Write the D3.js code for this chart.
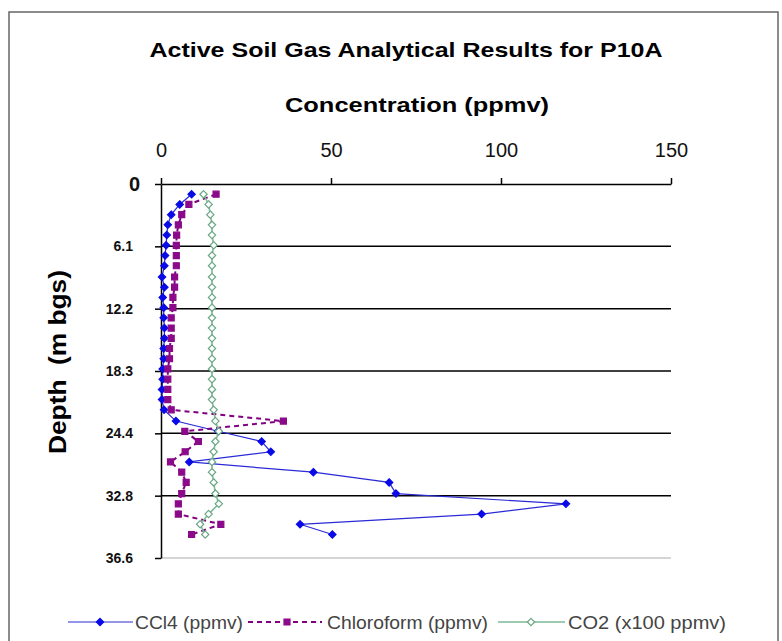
<!DOCTYPE html>
<html>
<head>
<meta charset="utf-8">
<script src="https://cdn.jsdelivr.net/npm/d3@7"></script>
<style>
  body { margin: 0; background: #fff; }
  text { font-family: Arial, "Liberation Sans", sans-serif; }
</style>
</head>
<body>
<div id="chart"></div>
<script>
// depth of each sample (m bgs)
const depths = [1.0, 2.0, 3.0, 4.0, 5.0, 6.0, 7.0, 8.0, 9.1, 10.1, 11.1, 12.1, 13.1, 14.1, 15.1, 16.1, 17.1,
  18.1, 19.1, 20.1, 21.1, 22.1, 23.2, 24.2, 25.2, 26.2, 27.2, 28.2, 29.2, 30.3, 31.3, 32.3, 33.3, 34.3];

// concentrations
const ccl4 = [9, 5.5, 3, 2, 1.7, 1.5, 1.2, 1, 0.3, 1, 0.5, 0.8, 0.8, 1, 1, 0.8, 0.8,
  0.5, 0.5, 0.3, 0.3, 0.9, 4.4, 16.8, 29.6, 32.3, 8.3, 44.8, 67.1, 69.1, 119.1, 94.3, 40.9, 50.4];
const chloroform = [16.2, 8.2, 6.1, 5.1, 4.6, 4.5, 4.5, 4.5, 4, 4, 3.5, 3.5, 3, 3, 3, 2.5, 2.5,
  2, 2, 2, 2, 3, 36, 7, 11, 7.1, 2.8, 6.1, 7.4, 6.1, 5.1, 5.1, 17.6, 9.0];
const co2 = [12.5, 14, 14.5, 15, 15, 15.5, 15, 15, 15, 15, 15, 15, 15, 15, 15, 15, 15,
  15, 15, 15, 15, 15.5, 16, 17, 16, 15.5, 15, 15, 15.5, 16, 17, 14, 11.5, 13];

const xTicks = [0, 50, 100, 150];
const yTicks = [0, 6.1, 12.2, 18.3, 24.4, 30.5, 36.6];
const yTickLabels = ["0", "6.1", "12.2", "18.3", "24.4", "32.8", "36.6"];

const seriesNames = ["CCl4 (ppmv)", "Chloroform (ppmv)", "CO2 (x100 ppmv)"];

const width = 782, height = 641;
const svg = d3.select("#chart").append("svg")
    .attr("width", width)
    .attr("height", height);

// outer frame
svg.append("rect")
    .attr("x", 9).attr("y", 12)
    .attr("width", 769).attr("height", 660)
    .attr("fill", "none")
    .attr("stroke", "#666")
    .attr("stroke-width", 1.5);

const x = d3.scaleLinear().domain([0, 150]).range([161, 671]);
const y = d3.scaleLinear().domain([0, 36.6]).range([184, 558]);

// horizontal grid lines
svg.append("g")
  .selectAll("line")
  .data(yTicks.slice(1, -1))
  .enter().append("line")
    .attr("x1", x(0)).attr("x2", x(150))
    .attr("y1", d => y(d)).attr("y2", d => y(d))
    .attr("stroke", "#000")
    .attr("stroke-width", 1.5);

// bottom edge of plot area
svg.append("line")
    .attr("x1", x(0)).attr("x2", x(150))
    .attr("y1", y(36.6)).attr("y2", y(36.6))
    .attr("stroke", "#aaa");

// top x axis
const xAxis = svg.append("g")
    .attr("transform", `translate(0,${y(0)})`)
    .call(d3.axisTop(x).tickValues(xTicks).tickSize(6).tickSizeOuter(0).tickPadding(21));
xAxis.select(".domain").attr("stroke-width", 1.5);
xAxis.selectAll(".tick line").attr("stroke-width", 1.5);
xAxis.selectAll("text")
    .attr("font-size", 20)
    .attr("fill", "#111")
    .attr("font-family", "Arial, 'Liberation Sans', sans-serif");

// left y axis
const yAxis = svg.append("g")
    .attr("transform", `translate(${x(0)},0)`)
    .call(d3.axisLeft(y).tickValues(yTicks).tickSize(6).tickSizeOuter(0)
      .tickFormat((d, i) => yTickLabels[i]).tickPadding(22));
yAxis.select(".domain").attr("stroke-width", 1.5);
yAxis.selectAll(".tick line").attr("stroke-width", 1.5);
yAxis.selectAll("text")
    .attr("font-family", "Arial, 'Liberation Sans', sans-serif")
    .attr("font-weight", "bold")
    .attr("fill", "#111")
    .attr("font-size", (d, i) => i === 0 ? 20 : 14)
    .attr("x", (d, i) => i === 0 ? -21 : -28);

// titles
svg.append("text")
    .attr("x", 406).attr("y", 57)
    .attr("text-anchor", "middle")
    .attr("font-size", 21)
    .attr("font-weight", "bold")
    .attr("textLength", 513)
    .attr("lengthAdjust", "spacingAndGlyphs")
    .text("Active Soil Gas Analytical Results for P10A");

svg.append("text")
    .attr("x", 417).attr("y", 112)
    .attr("text-anchor", "middle")
    .attr("font-size", 21)
    .attr("font-weight", "bold")
    .attr("textLength", 264)
    .attr("lengthAdjust", "spacingAndGlyphs")
    .text("Concentration (ppmv)");

svg.append("text")
    .attr("transform", "translate(66,362) rotate(-90)")
    .attr("text-anchor", "middle")
    .attr("font-size", 24)
    .attr("font-weight", "bold")
    .attr("textLength", 184)
    .attr("lengthAdjust", "spacingAndGlyphs")
    .style("white-space", "pre")
    .text("Depth  (m bgs)");

// series styles
const styles = [
  { values: ccl4, line: "#2a2ad6", width: 1.2, dash: null, symbol: d3.symbolDiamond2, size: 34, fill: "#0a0ae6", stroke: "#0a0ae6" },
  { values: chloroform, line: "#800080", width: 2, dash: "5,4", symbol: d3.symbolSquare, size: 36, fill: "#8a0a8a", stroke: "#8a0a8a" },
  { values: co2, line: "#7dba98", width: 1.6, dash: null, symbol: d3.symbolDiamond2, size: 34, fill: "#fff", stroke: "#6aa784" }
];

const line = d3.line()
    .x(d => x(d[0]))
    .y(d => y(d[1]));

styles.forEach(s => {
  const pts = s.values.map((v, i) => [v, depths[i]]);
  const g = svg.append("g");
  g.append("path")
      .datum(pts)
      .attr("d", line)
      .attr("fill", "none")
      .attr("stroke", s.line)
      .attr("stroke-width", s.width)
      .attr("stroke-dasharray", s.dash);
  g.selectAll("path.pt")
    .data(pts)
    .enter().append("path")
      .attr("class", "pt")
      .attr("d", d3.symbol().type(s.symbol).size(s.size))
      .attr("transform", d => `translate(${x(d[0])},${y(d[1])})`)
      .attr("fill", s.fill)
      .attr("stroke", s.stroke)
      .attr("stroke-width", 1.2);
});

// legend
const legendY = 622;
const legendItems = [
  { x1: 68, x2: 133, mx: 100, tx: 135, tl: 108 },
  { x1: 248, x2: 322, mx: 287, tx: 327, tl: 161 },
  { x1: 498, x2: 565, mx: 531, tx: 568, tl: 158 }
];
legendItems.forEach((it, i) => {
  const s = styles[i];
  svg.append("line")
      .attr("x1", it.x1).attr("x2", it.x2)
      .attr("y1", legendY).attr("y2", legendY)
      .attr("stroke", s.line)
      .attr("stroke-width", s.width)
      .attr("stroke-dasharray", s.dash);
  svg.append("path")
      .attr("d", d3.symbol().type(s.symbol).size(s.size))
      .attr("transform", `translate(${it.mx},${legendY})`)
      .attr("fill", s.fill)
      .attr("stroke", s.stroke)
      .attr("stroke-width", 1.2);
  svg.append("text")
      .attr("x", it.tx).attr("y", legendY + 7)
      .attr("font-size", 19)
      .attr("fill", "#444")
      .attr("textLength", it.tl)
      .attr("lengthAdjust", "spacingAndGlyphs")
      .text(seriesNames[i]);
});
</script>
</body>
</html>
